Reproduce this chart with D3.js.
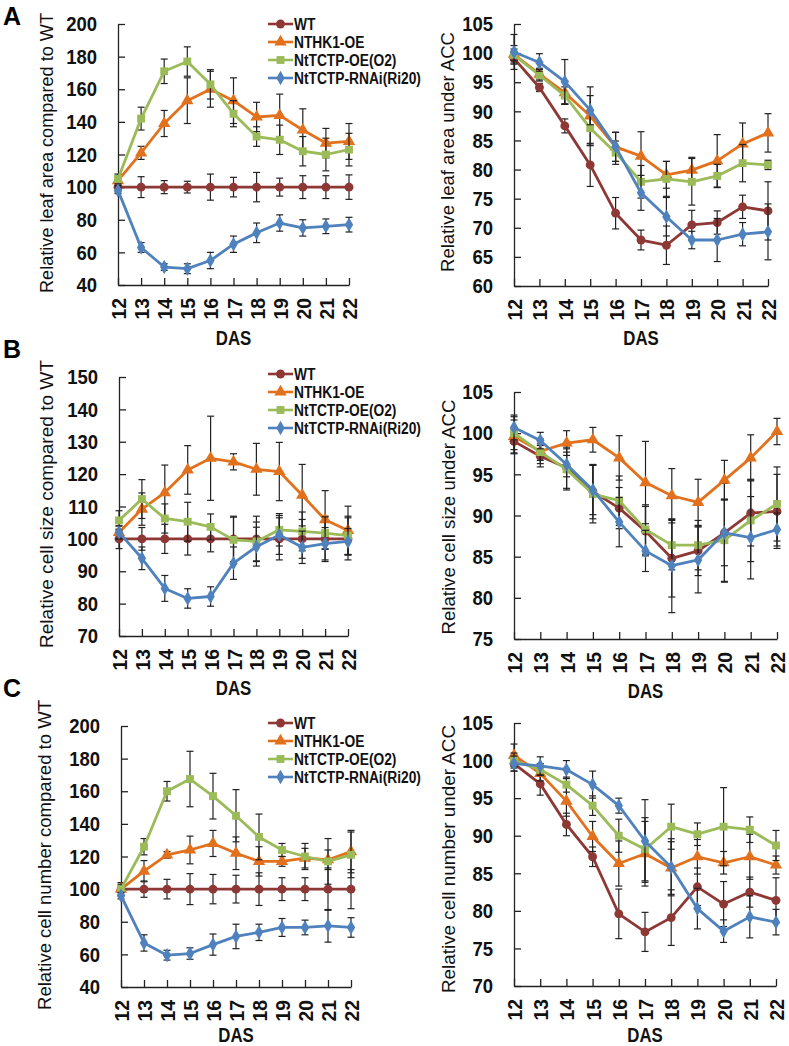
<!DOCTYPE html>
<html><head><meta charset="utf-8">
<script src="https://cdn.jsdelivr.net/npm/d3@7"></script>
<style>body{margin:0;background:#fff}svg{display:block}</style></head>
<body><svg id="c" width="789" height="1046"></svg>
<script>
// ---- data ----
const days = [12,13,14,15,16,17,18,19,20,21,22];
const seriesNames = ["WT","NTHK1-OE","NtTCTP-OE(O2)","NtTCTP-RNAi(Ri20)"];

// A left: relative leaf area compared to WT
const aL_wt   = [100,100,100,100,100,100,100,100,100,100,100];
const aL_wtE  = [3,6.4,4,3.6,8,6,9,5.5,7,7,7.5];
const aL_nthk = [104,121,139,153,160,153,143,144,135,127,128];
const aL_nthkE= [3,4,8,14,11,14,9,13,13,9,11];
const aL_oe   = [105,142,171,177,163,145,131,129,122,120,123];
const aL_oeE  = [3,7,7.5,9,9,8,6,9,9,10,10];
const aL_ri   = [98,63,51,50,55,65,72,78,75,76,77];
const aL_riE  = [2,3,2,3,5,5,6,5,5,4.5,4.5];

// A right: relative leaf area under ACC
const aR_wt   = [99.1,94.1,87.5,80.8,72.5,67.9,67.0,70.5,70.9,73.6,72.9];
const aR_wtE  = [1,0.7,1.2,3.7,2.7,1.7,3.3,2.5,2,2,5];
const aR_nthk = [99.8,96.4,93.2,89.2,83.9,82.3,79.1,79.9,81.5,84.4,86.3];
const aR_nthkE= [1.5,1,2,5,2.5,4.2,2.3,2.2,4.5,3.6,3.3];
const aR_oe   = [99.7,96.2,92.7,87.1,82.9,77.9,78.4,77.9,78.9,81.1,80.8];
const aR_oeE  = [1,1,1.5,3,2,2.8,3,4,2,3.2,0.8];
const aR_ri   = [100.2,98.4,95.1,90.2,83.9,76.0,71.9,67.9,67.9,68.9,69.3];
const aR_riE  = [3,1.5,3.8,2.5,2.5,3,3.3,1.5,3.7,2,4.8];

// B left: relative cell size compared to WT
const bL_wt   = [100,100,100,100,100,100,100,100,100,100,100];
const bL_wtE  = [3,3.5,4.5,5,4,7,7,6.5,6,7,6.5];
const bL_nthk = [102,109.2,114.3,121.3,124.9,123.8,121.5,120.8,113.5,105.9,102.6];
const bL_nthkE= [2,5,8.5,7.5,13,2.5,8,9,9.5,9,7.5];
const bL_oe   = [105.7,112.3,106.3,105.3,103.7,99.7,99.2,102.8,102.3,101.8,101.0];
const bL_oeE  = [3,6,4.5,6,4,7,6,5,6,5,6];
const bL_ri   = [102,94.0,84.7,81.6,82.2,92.5,97.6,101.2,97.4,98.5,99.2];
const bL_riE  = [2,3.5,4,3,3,5,6,6,5,5,4];

// B right: relative cell size under ACC
const bR_wt   = [99.0,97.2,95.8,92.9,90.9,88.1,84.8,85.7,87.9,90.3,90.5];
const bR_wtE  = [1.5,1.3,2.5,3.3,2.5,3,4.7,3,6,4,4.5];
const bR_nthk = [99.6,97.8,98.8,99.2,97.0,94.0,92.4,91.6,94.3,97.0,100.2];
const bR_nthkE= [2,1.5,1.5,1.5,2.7,5,3.3,2.8,2.4,2.8,1.6];
const bR_oe   = [100.0,97.7,95.6,92.6,91.8,88.3,86.4,86.4,87.0,89.4,91.4];
const bR_oeE  = [2,1,2.5,3.5,3,3,3,3,5,5,4.5];
const bR_ri   = [100.7,99.1,96.2,93.1,89.2,85.7,83.9,84.6,87.9,87.3,88.3];
const bR_riE  = [1.5,1,1.5,3,3,2.5,5.7,4,4,5,2];

// C left: relative cell number compared to WT
const cL_wt   = [100,100,100,100,100,100,100,100,100,100,100];
const cL_wtE  = [4,5,6,9.5,9,8.5,10,7,7,13,12];
const cL_nthk = [100,111,121,124,128,122,117,117,119,118,123];
const cL_nthkE= [2,6.5,2,8.5,8,10,9,3,6,6,13];
const cL_oe   = [100,126,160,167.5,157,145,132,124,120,117,121];
const cL_oeE  = [3,5,6,17,14,16,14,4,8,14,14];
const cL_ri   = [96,67,59.5,60.5,66,71,73.5,76.5,76.5,77.5,76.5];
const cL_riE  = [2,5,3,3.5,6.5,7.5,5,5.5,4.5,10,6];

// C right: relative cell number under ACC
const cR_wt   = [99.6,96.9,91.5,87.2,79.6,77.2,79.1,83.2,80.9,82.5,81.4];
const cR_wtE  = [1,1.5,1.5,1.3,3.3,2.6,3.7,2.5,3,2,3];
const cR_nthk = [100.7,98.3,94.6,89.9,86.3,87.6,85.7,87.2,86.4,87.2,86.1];
const cR_nthkE= [1.5,1,2,2,3,4.3,3.5,2.3,1.5,3,1.2];
const cR_oe   = [100,98.8,96.8,94.0,90.0,88.2,91.2,90.2,91.2,90.8,88.7];
const cR_oeE  = [1,0.8,1,1.3,2.2,4.2,3,1.5,5.2,1.7,2];
const cR_ri   = [99.6,99.3,98.8,96.8,94.0,89.3,85.8,80.3,77.3,79.2,78.5];
const cR_riE  = [1,1.2,1.2,1.8,1,5.5,3.8,2.7,1.5,2.8,1.7];

const yTicksWide = [40,60,80,100,120,140,160,180,200];
const yTicksB    = [70,80,90,100,110,120,130,140,150];
const yTicksAR   = [60,65,70,75,80,85,90,95,100,105];
const yTicksBR   = [75,80,85,90,95,100,105];
const yTicksCR   = [70,75,80,85,90,95,100,105];

// ---- styles ----
const colors = ["#8e3836","#e2711d","#9bbb59","#4f81bd"];
const symbols = [d3.symbolCircle, d3.symbolTriangle, d3.symbolSquare, d3.symbolDiamond];
const symSizes = [62, 66, 62, 60];
const FN = "'Liberation Sans',Arial,sans-serif";

const svg = d3.select("#c");

function condense(sel, f){
  sel.each(function(){
    const L = this.getComputedTextLength();
    d3.select(this).attr("textLength", L*f).attr("lengthAdjust","spacingAndGlyphs");
  });
}

function panel(cfg){
  const g = svg.append("g");
  const x = d3.scaleLinear().domain([12,22]).range([cfg.x0,cfg.x1]);
  const y = d3.scaleLinear().domain(cfg.domain).range([cfg.yBot,cfg.yTop]);

  const ya = g.append("g").attr("transform",`translate(${cfg.x0},0)`)
    .call(d3.axisLeft(y).tickValues(cfg.ticks).tickSizeInner(-7).tickSizeOuter(0).tickPadding(21));
  const xa = g.append("g").attr("transform",`translate(0,${cfg.yBot})`)
    .call(d3.axisBottom(x).tickValues(days).tickSizeInner(-7).tickSizeOuter(0));
  [ya,xa].forEach(a=>{
    a.selectAll("path,line").attr("stroke","#222").attr("stroke-width",1.3);
    a.selectAll("text").attr("font-family",FN).attr("font-weight","bold").attr("font-size",21).attr("fill","#111");
  });
  xa.selectAll("text").attr("x",-13).attr("y",0).attr("dy","0.36em")
    .attr("transform","rotate(-90)").style("text-anchor","end");
  condense(ya.selectAll("text"),0.88);
  condense(xa.selectAll("text"),0.92);

  // axis titles
  g.append("text").attr("transform",`translate(${cfg.titleX},${cfg.titleC}) rotate(-90)`)
    .attr("text-anchor","middle").attr("dy","0.35em")
    .attr("font-family",FN).attr("font-size",18.5).attr("fill","#111")
    .attr("textLength",cfg.titleLen).attr("lengthAdjust","spacingAndGlyphs").text(cfg.title);
  const das = g.append("text").attr("x",(cfg.x0+cfg.x1)/2).attr("y",cfg.dasY)
    .attr("text-anchor","middle").attr("font-family",FN).attr("font-weight","bold")
    .attr("font-size",21).attr("fill","#111").text("DAS");
  condense(das,0.8);

  cfg.series.forEach((s,i)=>{
    const pts = days.map((d,k)=>({d, v:s[0][k], e:s[1][k]}));
    const eb = g.append("g").attr("stroke","#222").attr("stroke-width",1.2);
    pts.forEach(p=>{
      const yt=y(p.v+p.e), yb=y(p.v-p.e), xx=x(p.d);
      eb.append("line").attr("x1",xx).attr("x2",xx).attr("y1",yt).attr("y2",yb);
      eb.append("line").attr("x1",xx-3.5).attr("x2",xx+3.5).attr("y1",yt).attr("y2",yt);
      eb.append("line").attr("x1",xx-3.5).attr("x2",xx+3.5).attr("y1",yb).attr("y2",yb);
    });
    g.append("path").datum(pts).attr("fill","none").attr("stroke",colors[i])
      .attr("stroke-width",2.8).attr("stroke-linejoin","round")
      .attr("d",d3.line().x(p=>x(p.d)).y(p=>y(p.v)));
    g.selectAll(null).data(pts).join("path")
      .attr("transform",p=>`translate(${x(p.d)},${y(p.v)})`)
      .attr("d",d3.symbol().type(symbols[i]).size(symSizes[i]))
      .attr("fill",colors[i]);
  });

  if(cfg.legendY!==undefined){
    const lg = g.append("g");
    seriesNames.forEach((n,i)=>{
      const yy = cfg.legendY + i*18;
      lg.append("line").attr("x1",268).attr("x2",293).attr("y1",yy).attr("y2",yy)
        .attr("stroke",colors[i]).attr("stroke-width",2.6);
      lg.append("path").attr("transform",`translate(280.5,${yy})`)
        .attr("d",d3.symbol().type(symbols[i]).size(symSizes[i])).attr("fill",colors[i]);
      const t = lg.append("text").attr("x",294).attr("y",yy).attr("dy","0.36em")
        .attr("font-family",FN).attr("font-size",16).attr("font-weight","bold").attr("fill","#111").text(n);
      condense(t,0.86);
    });
  }
}

panel({x0:118,x1:349,yTop:24,yBot:285,domain:[40,200],ticks:yTicksWide,titleX:47,titleC:153,titleLen:280,dasY:345,
  title:"Relative leaf area compared to WT",legendY:24,
  series:[[aL_wt,aL_wtE],[aL_nthk,aL_nthkE],[aL_oe,aL_oeE],[aL_ri,aL_riE]]});
panel({x0:514,x1:768,yTop:24,yBot:286,domain:[60,105],ticks:yTicksAR,titleX:448,titleC:152,titleLen:240,dasY:345,
  title:"Relative leaf area under ACC",
  series:[[aR_wt,aR_wtE],[aR_nthk,aR_nthkE],[aR_oe,aR_oeE],[aR_ri,aR_riE]]});
panel({x0:119,x1:348,yTop:377,yBot:636,domain:[70,150],ticks:yTicksB,titleX:47,titleC:504,titleLen:288,dasY:695,
  title:"Relative cell size compared to WT",legendY:374,
  series:[[bL_wt,bL_wtE],[bL_nthk,bL_nthkE],[bL_oe,bL_oeE],[bL_ri,bL_riE]]});
panel({x0:514,x1:777,yTop:392,yBot:639,domain:[75,105],ticks:yTicksBR,titleX:449,titleC:517,titleLen:235,dasY:698,
  title:"Relative cell size under ACC",
  series:[[bR_wt,bR_wtE],[bR_nthk,bR_nthkE],[bR_oe,bR_oeE],[bR_ri,bR_riE]]});
panel({x0:121,x1:351,yTop:726,yBot:987,domain:[40,200],ticks:yTicksWide,titleX:45,titleC:855,titleLen:310,dasY:1042,
  title:"Relative cell number compared to WT",legendY:723,
  series:[[cL_wt,cL_wtE],[cL_nthk,cL_nthkE],[cL_oe,cL_oeE],[cL_ri,cL_riE]]});
panel({x0:514,x1:776,yTop:723,yBot:986,domain:[70,105],ticks:yTicksCR,titleX:449,titleC:859,titleLen:268,dasY:1042,
  title:"Relative cell number under ACC",
  series:[[cR_wt,cR_wtE],[cR_nthk,cR_nthkE],[cR_oe,cR_oeE],[cR_ri,cR_riE]]});

// panel letters
[["A",25],["B",358],["C",697]].forEach(([t,yy])=>{
  svg.append("text").attr("x",3).attr("y",yy).attr("font-family",FN).attr("font-weight","bold")
    .attr("font-size",25).attr("fill","#000").text(t);
});
</script></body></html>
